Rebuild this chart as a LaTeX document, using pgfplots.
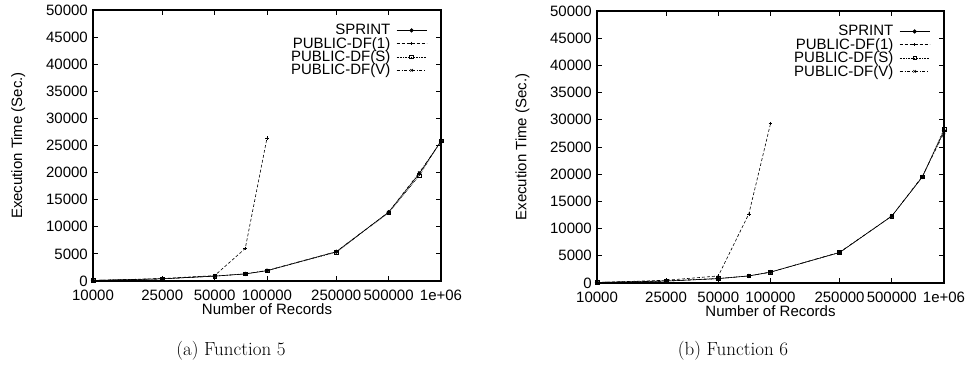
\documentclass[border=0pt]{standalone}
\usepackage{fontspec}
\usepackage{pgfplots}
\pgfplotsset{compat=1.18}
\newfontfamily\hel{Liberation Sans}
\newcommand\tf{\hel\fontsize{15}{17}\selectfont}

\pgfplotstableread{
x       sprint dfone dfs   dfv
10000   100    100   100   100
25000   400    450   400   400
50000   900    1000  900   900
75000   1300   6000  1350  1300
100000  1900   26400 1900  1950
250000  5400   nan   5300  5400
500000  12700  nan   12600 12700
750000  19800  nan   19400 20000
1000000 25800  nan   25900 25700
}\tabA

\pgfplotstableread{
x       sprint dfone dfs   dfv
10000   100    100   100   100
25000   350    500   400   350
50000   800    1300  850   800
75000   1300   12700 1300  1300
100000  2000   29300 2000  2000
250000  5600   nan   5600  5650
500000  12300  nan   12300 12300
750000  19500  nan   19500 19600
1000000 28000  nan   28300 27600
}\tabB

\pgfplotsset{
  legend image code/.code={\draw[mark repeat=2,mark phase=2,#1] plot coordinates {(0pt,0pt) (15pt,0pt) (30pt,0pt)};},
  every axis plot/.append style={black, line width=0.6pt, mark size=1.8pt},
}

\begin{document}
\begin{tikzpicture}
\useasboundingbox (0,0) rectangle (965pt,382pt);
\begin{axis}[at={(93pt,101pt)}, anchor=south west, width=348pt, height=271pt,
  scale only axis, xmode=log, xmin=10000, xmax=1000000, ymin=0, ymax=50000,
  xtick={10000,25000,50000,100000,250000,500000,1000000},
  xticklabels={10000,25000,50000,100000,250000,500000,1e+06},
  ytick={0,5000,...,50000},
  xminorticks=false, scaled y ticks=false,
  /pgf/number format/1000 sep={},
  /pgf/number format/assume math mode=true,
  ticklabel style={font=\tf, inner sep=1pt}, label style={font=\tf},
  xticklabel style={yshift=-8pt},
  yticklabel style={xshift=-4pt},
  xlabel={Number of Records}, ylabel={Execution Time (Sec.)},
  xlabel style={at={(axis description cs:0.5,-0.105)}, anchor=center},
  ylabel style={at={(axis description cs:-0.215,0.5)}, anchor=center},
  axis line style={line width=1.1pt},
  major tick length=5pt, tick style={line width=0.8pt, black},
  legend style={draw=none, fill=none, font=\tf, at={(0.96,0.955)}, anchor=north east, row sep=-3pt, column sep=4pt, inner sep=0pt},
  legend cell align=right, legend plot pos=right,
  unbounded coords=jump]
\addplot[solid, mark=*] table[x=x, y=sprint] {\tabA};
\addlegendentry{SPRINT}
\addplot[densely dashed, mark=+, mark options={solid}] table[x=x, y=dfone] {\tabA};
\addlegendentry{PUBLIC-DF(1)}
\addplot[densely dotted, mark=square, mark options={solid}] table[x=x, y=dfs] {\tabA};
\addlegendentry{PUBLIC-DF(S)}
\addplot[dashdotted, mark=x, mark options={solid}] table[x=x, y=dfv] {\tabA};
\addlegendentry{PUBLIC-DF(V)}
\end{axis}
\begin{axis}[at={(597pt,99pt)}, anchor=south west, width=347pt, height=272pt,
  scale only axis, xmode=log, xmin=10000, xmax=1000000, ymin=0, ymax=50000,
  xtick={10000,25000,50000,100000,250000,500000,1000000},
  xticklabels={10000,25000,50000,100000,250000,500000,1e+06},
  ytick={0,5000,...,50000},
  xminorticks=false, scaled y ticks=false,
  /pgf/number format/1000 sep={},
  /pgf/number format/assume math mode=true,
  ticklabel style={font=\tf, inner sep=1pt}, label style={font=\tf},
  xticklabel style={yshift=-8pt},
  yticklabel style={xshift=-4pt},
  xlabel={Number of Records}, ylabel={Execution Time (Sec.)},
  xlabel style={at={(axis description cs:0.5,-0.105)}, anchor=center},
  ylabel style={at={(axis description cs:-0.215,0.5)}, anchor=center},
  axis line style={line width=1.1pt},
  major tick length=5pt, tick style={line width=0.8pt, black},
  legend style={draw=none, fill=none, font=\tf, at={(0.96,0.955)}, anchor=north east, row sep=-3pt, column sep=4pt, inner sep=0pt},
  legend cell align=right, legend plot pos=right,
  unbounded coords=jump]
\addplot[solid, mark=*] table[x=x, y=sprint] {\tabB};
\addlegendentry{SPRINT}
\addplot[densely dashed, mark=+, mark options={solid}] table[x=x, y=dfone] {\tabB};
\addlegendentry{PUBLIC-DF(1)}
\addplot[densely dotted, mark=square, mark options={solid}] table[x=x, y=dfs] {\tabB};
\addlegendentry{PUBLIC-DF(S)}
\addplot[dashdotted, mark=x, mark options={solid}] table[x=x, y=dfv] {\tabB};
\addlegendentry{PUBLIC-DF(V)}
\end{axis}
\node[font=\fontsize{19}{22}\selectfont] at (231pt,31pt) {(a) Function 5};
\node[font=\fontsize{19}{22}\selectfont] at (733pt,31pt) {(b) Function 6};
\end{tikzpicture}
\end{document}
